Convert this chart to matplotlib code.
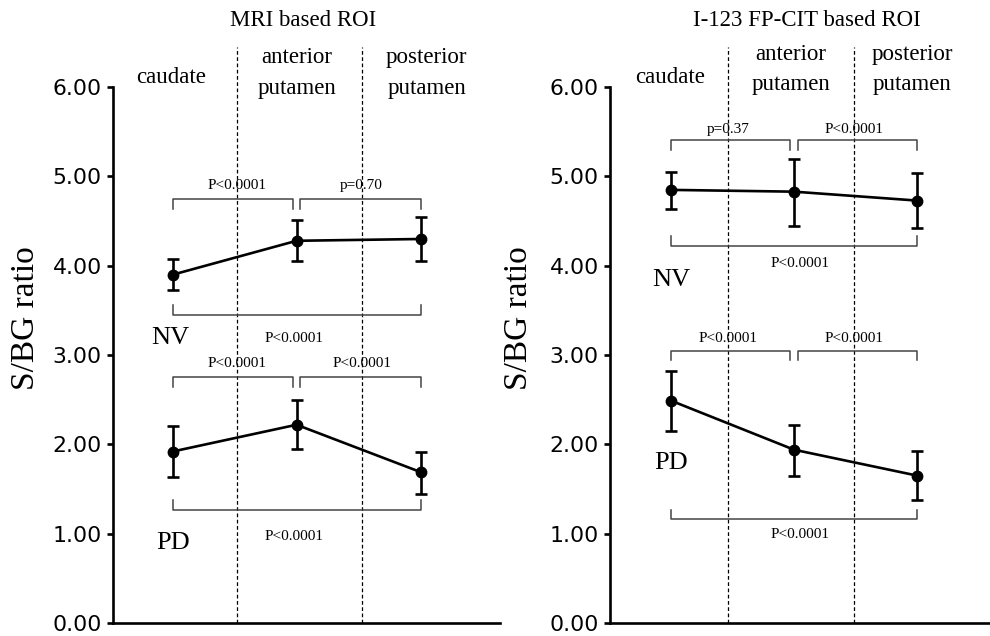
import matplotlib.pyplot as plt

# Regions along the striatum and their x positions
regions = ['caudate', 'anterior\nputamen', 'posterior\nputamen']
xpos = [1, 2, 3]
yticks = [0, 1, 2, 3, 4, 5, 6]

# MRI based ROI: mean and error bar ends
mri_nv_mean = [3.90, 4.28, 4.30]
mri_nv_upper = [4.08, 4.51, 4.55]
mri_nv_lower = [3.73, 4.05, 4.05]
mri_pd_mean = [1.92, 2.22, 1.69]
mri_pd_upper = [2.21, 2.50, 1.92]
mri_pd_lower = [1.63, 1.95, 1.45]

# I-123 FP-CIT based ROI
cit_nv_mean = [4.85, 4.83, 4.73]
cit_nv_upper = [5.05, 5.20, 5.04]
cit_nv_lower = [4.64, 4.45, 4.42]
cit_pd_mean = [2.49, 1.94, 1.65]
cit_pd_upper = [2.82, 2.22, 1.93]
cit_pd_lower = [2.15, 1.65, 1.38]

# p-values for comparisons (caudate-ant, ant-post, caudate-post)
mri_nv_p = ['P<0.0001', 'p=0.70', 'P<0.0001']
mri_pd_p = ['P<0.0001', 'P<0.0001', 'P<0.0001']
cit_nv_p = ['p=0.37', 'P<0.0001', 'P<0.0001']
cit_pd_p = ['P<0.0001', 'P<0.0001', 'P<0.0001']

serif = 'Liberation Serif'

fig = plt.figure(figsize=(9.9, 6.36), dpi=100)


def bracket(ax, x0, x1, y, h, label, lx, ly):
    # h < 0: ticks hang down, h > 0: ticks point up
    ax.plot([x0, x0, x1, x1], [y + h, y, y, y + h], color='#444444', lw=1.1)
    ax.text(lx, ly, label, ha='center', va='center', fontsize=11,
            family=serif)


def panel(rect, xlim, dashes, nv, pd, nv_p, pd_p, title, tx, lab_x, lab_y, brk, ylx):
    ax = fig.add_axes(rect)
    ax.set_xlim(*xlim)
    ax.set_ylim(0, 6.45)
    for s in ['top', 'right']:
        ax.spines[s].set_visible(False)
    ax.spines['left'].set_bounds(0, 6)
    ax.spines['left'].set_linewidth(1.9)
    ax.spines['bottom'].set_linewidth(1.9)
    ax.set_yticks(yticks)
    ax.set_yticklabels(['%.2f' % v for v in yticks], fontsize=15.8)
    ax.tick_params(axis='y', length=4, width=1.9, pad=4)
    ax.set_xticks([])
    for d in dashes:
        ax.axvline(d, color='black', lw=0.9, ls=(0, (3, 2)))

    for mean, up, lo in [nv, pd]:
        err = [[m - l for m, l in zip(mean, lo)], [u - m for m, u in zip(mean, up)]]
        ax.errorbar(xpos, mean, yerr=err, color='black', lw=1.9, marker='o',
                    ms=7.5, elinewidth=1.9, capsize=4, capthick=1.9)

    for x, r, ly in zip(lab_x, regions, lab_y):
        ax.text(x, ly, r, ha='center', va='center', fontsize=16.5,
                family=serif, linespacing=1.6)

    # brackets: (top y, bottom y, top label y, bottom label y, bottom label x, group label pos)
    for p, (ty, by, tly, bly, blx, gx, gy, g) in zip([nv_p, pd_p], brk):
        bracket(ax, 1.0, 1.97, ty, -0.11, p[0], dashes[0], tly)
        bracket(ax, 2.03, 3.0, ty, -0.11, p[1], dashes[1], tly)
        bracket(ax, 1.0, 3.0, by, 0.11, p[2], blx, bly)
        ax.text(gx, gy, g, ha='center', va='center', fontsize=19, family=serif)

    ax.set_ylabel('S/BG ratio', fontsize=24, family=serif)
    ax.yaxis.set_label_coords(ylx, 0.53)
    fig.text(tx, 1 - 20 / 636, title, ha='center', va='center', fontsize=16.5,
             family=serif)
    return ax


panel([113 / 990, 13 / 636, 387 / 990, 576 / 636], (0.52, 3.64), [1.516, 2.524],
      (mri_nv_mean, mri_nv_upper, mri_nv_lower),
      (mri_pd_mean, mri_pd_upper, mri_pd_lower),
      mri_nv_p, mri_pd_p, 'MRI based ROI', 303 / 990,
      [0.99, 2.0, 3.05], [6.11, 6.16, 6.16],
      [(4.75, 3.45, 4.90, 3.19, 1.98, 0.98, 3.19, 'NV'),
       (2.75, 1.27, 2.91, 0.97, 1.98, 1.0, 0.90, 'PD')], -0.185)

panel([610 / 990, 13 / 636, 380 / 990, 576 / 636], (0.505, 3.59), [1.462, 2.484],
      (cit_nv_mean, cit_nv_upper, cit_nv_lower),
      (cit_pd_mean, cit_pd_upper, cit_pd_lower),
      cit_nv_p, cit_pd_p, 'I-123 FP-CIT based ROI', 807 / 990,
      [0.99, 1.97, 2.96], [6.11, 6.20, 6.20],
      [(5.41, 4.22, 5.53, 4.03, 2.05, 1.0, 3.84, 'NV'),
       (3.05, 1.16, 3.19, 0.99, 2.05, 1.0, 1.79, 'PD')], -0.2)

fig.savefig('out.png', dpi=100)
